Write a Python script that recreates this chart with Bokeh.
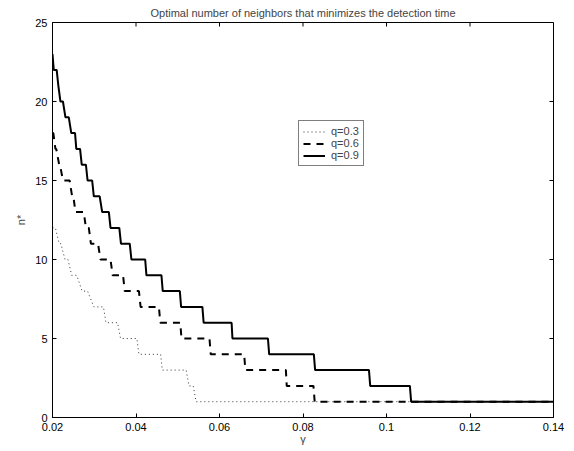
from bokeh.plotting import figure
from bokeh.models import Range1d, FixedTicker, Legend, LegendItem, CustomJSTickFormatter
from bokeh.embed import file_html
from bokeh.resources import INLINE

# ---- data: level n* and the gamma range over which it holds ----
q03_n = [12, 11, 10, 9, 8, 7, 6, 5, 4, 3, 2, 1]
q03_start = [0.0200, 0.0216, 0.0230, 0.0246, 0.0271, 0.0299, 0.0328, 0.0363, 0.0407, 0.0463, 0.0527, 0.0544]
q03_end = [0.0207, 0.0220, 0.0237, 0.0258, 0.0284, 0.0322, 0.0356, 0.0402, 0.0459, 0.0520, 0.0537, 0.1400]

q06_n = [18, 17, 16, 15, 14, 13, 12, 11, 10, 9, 8, 7, 6, 5, 4, 3, 2, 1]
q06_start = [0.0200, 0.0207, 0.0216, 0.0225, 0.0247, 0.0255, 0.0280, 0.0292, 0.0315, 0.0344,
             0.0373, 0.0411, 0.0458, 0.0509, 0.0579, 0.0662, 0.0761, 0.0828]
q06_end = [0.0202, 0.0209, 0.0218, 0.0241, 0.0250, 0.0275, 0.0287, 0.0309, 0.0339, 0.0369,
           0.0407, 0.0455, 0.0506, 0.0576, 0.0659, 0.0759, 0.0825, 0.1400]

q09_n = [23, 22, 21, 20, 19, 18, 17, 16, 15, 14, 13, 12, 11, 10, 9, 8, 7, 6, 5, 4, 3, 2, 1]
q09_start = [0.0200, 0.0203, 0.0214, 0.0219, 0.0231, 0.0245, 0.0257, 0.0270, 0.0284, 0.0299,
             0.0319, 0.0339, 0.0364, 0.0389, 0.0425, 0.0464, 0.0508, 0.0562, 0.0631, 0.0719,
             0.0829, 0.0961, 0.1059]
q09_end = [0.0200, 0.0210, 0.0214, 0.0225, 0.0239, 0.0254, 0.0266, 0.0280, 0.0295, 0.0313,
           0.0335, 0.0360, 0.0385, 0.0422, 0.0461, 0.0505, 0.0559, 0.0629, 0.0716, 0.0826,
           0.0958, 0.1056, 0.1400]

series_labels = ["q=0.3", "q=0.6", "q=0.9"]
x_ticks = [0.02, 0.04, 0.06, 0.08, 0.1, 0.12, 0.14]
y_ticks = [0, 5, 10, 15, 20, 25]
X_MIN, X_MAX = 0.02, 0.14
Y_MIN, Y_MAX = 0, 25

FONT = "Liberation Sans"
FRAME_W, FRAME_H = 501, 395
TICK_PX = 4


def stair(levels, starts, ends):
    xs, ys = [], []
    for n, s, e in zip(levels, starts, ends):
        xs += [s, e]
        ys += [n, n]
    return xs, ys


p = figure(width=574, height=451, output_backend="svg", toolbar_location=None,
           x_range=Range1d(X_MIN, X_MAX), y_range=Range1d(Y_MIN, Y_MAX),
           min_border_left=52, min_border_right=21, min_border_top=22, min_border_bottom=34,
           title="Optimal number of neighbors that minimizes the detection time")
p.background_fill_color = "white"
p.border_fill_color = "white"
p.outline_line_color = "black"
p.outline_line_width = 1
p.grid.visible = False

p.title.text_font = FONT
p.title.text_font_size = "11px"
p.title.text_font_style = "normal"
p.title.align = "center"
p.title.standoff = 8
p.title.offset = 0

fmt = CustomJSTickFormatter(code="return tick.toString();")


def style_axis(ax, ticks):
    ax.ticker = FixedTicker(ticks=ticks)
    ax.major_tick_in = TICK_PX
    ax.major_tick_out = 0
    ax.minor_tick_line_color = None
    ax.axis_line_color = "black"
    ax.major_tick_line_color = "black"
    ax.major_label_text_font = FONT
    ax.major_label_text_color = "black"
    ax.major_label_text_font_size = "11px"
    ax.major_label_standoff = 5
    ax.formatter = fmt


xa = p.xaxis[0]
style_axis(xa, x_ticks)
xa.axis_label = "γ"
xa.axis_label_text_font = FONT
xa.axis_label_text_font_size = "11px"
xa.axis_label_text_font_style = "normal"
xa.axis_label_standoff = -1

ya = p.yaxis[0]
style_axis(ya, y_ticks)
ya.axis_label = "n*"
ya.axis_label_text_font = FONT
ya.axis_label_text_font_size = "11px"
ya.axis_label_text_font_style = "normal"
ya.axis_label_standoff = 5

# inward ticks on the top and right edges of the box (MATLAB style)
dy = TICK_PX * (Y_MAX - Y_MIN) / FRAME_H
dx = TICK_PX * (X_MAX - X_MIN) / FRAME_W
p.segment(x0=x_ticks, y0=[Y_MAX] * len(x_ticks), x1=x_ticks, y1=[Y_MAX - dy] * len(x_ticks),
          line_color="black", line_width=1)
p.segment(x0=[X_MAX] * len(y_ticks), y0=y_ticks, x1=[X_MAX - dx] * len(y_ticks), y1=y_ticks,
          line_color="black", line_width=1)

x3, y3 = stair(q03_n, q03_start, q03_end)
x6, y6 = stair(q06_n, q06_start, q06_end)
x9, y9 = stair(q09_n, q09_start, q09_end)

r3 = p.line(x3, y3, line_color="#333333", line_width=1, line_dash="1 3")
r6 = p.line(x6, y6, line_color="black", line_width=2, line_dash="7 6")
r9 = p.line(x9, y9, line_color="black", line_width=2)

legend = Legend(items=[LegendItem(label=series_labels[0], renderers=[r3]),
                       LegendItem(label=series_labels[1], renderers=[r6]),
                       LegendItem(label=series_labels[2], renderers=[r9])],
                location=(246, 251))
legend.label_text_font = FONT
legend.label_text_font_size = "11px"
legend.label_height = 11
legend.glyph_height = 11
legend.glyph_width = 22
legend.label_standoff = 6
legend.spacing = 0
legend.padding = 4
legend.margin = 0
legend.border_line_color = "black"
legend.border_line_width = 1
legend.background_fill_color = "white"
legend.background_fill_alpha = 1
p.add_layout(legend, "center")

open("out.html", "w").write(file_html(p, INLINE))
